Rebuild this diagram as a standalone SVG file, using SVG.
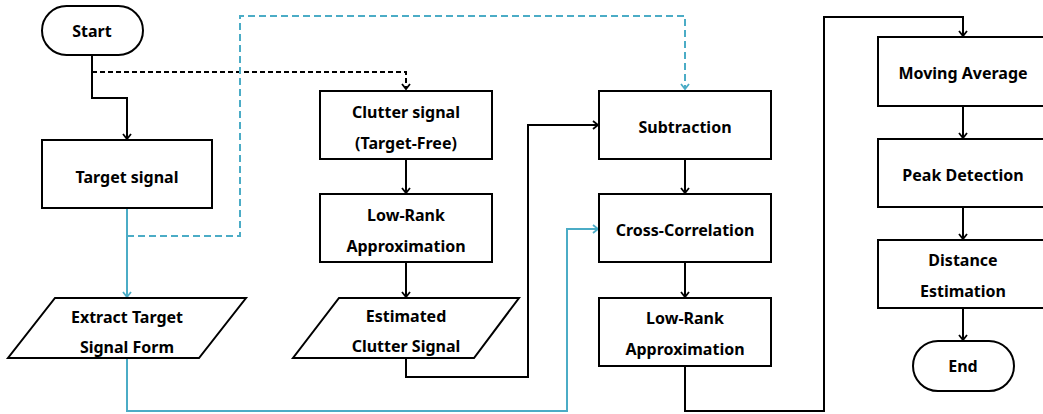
<svg xmlns="http://www.w3.org/2000/svg" width="1043" height="414" viewBox="0 0 1043 414">
<defs>
<style>
.box{fill:#fff;stroke:#000;stroke-width:2}
.t{font-family:"Noto Sans","Liberation Sans",sans-serif;font-weight:bold;font-size:16px;text-anchor:middle;dominant-baseline:central;fill:#000}
.k{fill:none;stroke:#000;stroke-width:2}
.b{fill:none;stroke:#4bacc6;stroke-width:2}
.kd{stroke-dasharray:5 3}
.bd{stroke-dasharray:7 4}
</style>
<marker id="ak" markerWidth="10" markerHeight="10" refX="8" refY="5" orient="auto" markerUnits="userSpaceOnUse">
<path d="M3,1 L8,5 L3,9" fill="none" stroke="#000" stroke-width="1.8"/>
</marker>
<marker id="ab" markerWidth="10" markerHeight="10" refX="8" refY="5" orient="auto" markerUnits="userSpaceOnUse">
<path d="M3,1 L8,5 L3,9" fill="none" stroke="#4bacc6" stroke-width="1.8"/>
</marker>
</defs>
<rect width="1043" height="414" fill="#fff"/>
<g id="connectors">
<path class="k" d="M92,56 V98 H127 V139" marker-end="url(#ak)"/>
<path class="k kd" d="M92,72 H406 V89" marker-end="url(#ak)"/>
<path class="b bd" d="M127,236 H240 V16 H685 V89" marker-end="url(#ab)"/>
<path class="b" d="M127,208 V297" marker-end="url(#ab)"/>
<path class="k" d="M406,159 V193" marker-end="url(#ak)"/>
<path class="k" d="M406,262 V297" marker-end="url(#ak)"/>
<path class="k" d="M406,358 V377 H528 V125 H598" marker-end="url(#ak)"/>
<path class="b" d="M127,358 V411 H567 V229 H598" marker-end="url(#ab)"/>
<path class="k" d="M685,159 V193" marker-end="url(#ak)"/>
<path class="k" d="M685,262 V297" marker-end="url(#ak)"/>
<path class="k" d="M685,366 V411 H824 V17 H963 V36" marker-end="url(#ak)"/>
<path class="k" d="M963,106 V138" marker-end="url(#ak)"/>
<path class="k" d="M963,207 V239" marker-end="url(#ak)"/>
<path class="k" d="M963,308 V340" marker-end="url(#ak)"/>
</g>
<g id="start"><rect class="box" x="42" y="6" width="101" height="49" rx="24.5"/><text class="t" x="92" y="31">Start</text></g>
<g id="target-signal"><rect class="box" x="42" y="140" width="170" height="68"/><text class="t" x="127" y="177">Target signal</text></g>
<g id="clutter-signal"><rect class="box" x="320" y="91" width="172" height="68"/><text class="t" x="406" y="112">Clutter signal</text><text class="t" x="406" y="143">(Target-Free)</text></g>
<g id="low-rank-1"><rect class="box" x="320" y="194" width="172" height="68"/><text class="t" x="406" y="215">Low-Rank</text><text class="t" x="406" y="246">Approximation</text></g>
<g id="estimated-clutter"><polygon class="box" points="339,298 519,298 474,358 293,358"/><text class="t" x="406" y="316">Estimated</text><text class="t" x="406" y="346">Clutter Signal</text></g>
<g id="extract-target"><polygon class="box" points="55,298 246,298 199,358 8,358"/><text class="t" x="127" y="317">Extract Target</text><text class="t" x="127" y="347">Signal Form</text></g>
<g id="subtraction"><rect class="box" x="599" y="91" width="172" height="68"/><text class="t" x="685" y="127">Subtraction</text></g>
<g id="cross-correlation"><rect class="box" x="599" y="194" width="172" height="68"/><text class="t" x="685" y="230">Cross-Correlation</text></g>
<g id="low-rank-2"><rect class="box" x="599" y="298" width="172" height="68"/><text class="t" x="685" y="318">Low-Rank</text><text class="t" x="685" y="349">Approximation</text></g>
<g id="moving-average"><rect class="box" x="878" y="37" width="172" height="69"/><text class="t" x="963" y="73">Moving Average</text></g>
<g id="peak-detection"><rect class="box" x="878" y="139" width="172" height="68"/><text class="t" x="963" y="175">Peak Detection</text></g>
<g id="distance-estimation"><rect class="box" x="878" y="240" width="172" height="68"/><text class="t" x="963" y="260">Distance</text><text class="t" x="963" y="291">Estimation</text></g>
<g id="end"><rect class="box" x="913" y="341" width="101" height="50" rx="25"/><text class="t" x="963" y="366">End</text></g>
</svg>
